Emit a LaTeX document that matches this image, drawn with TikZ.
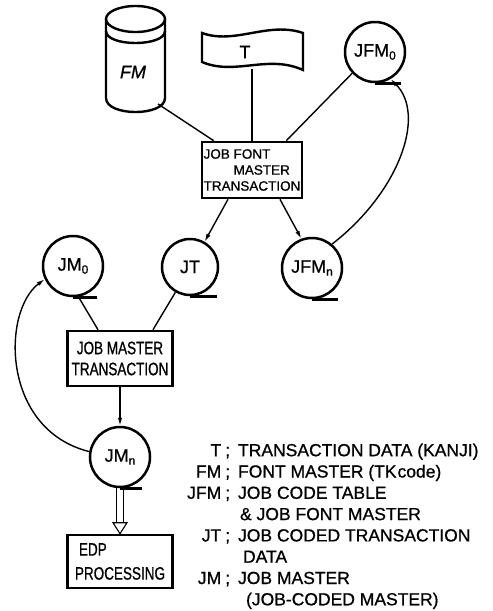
\documentclass[tikz,border=0pt]{standalone}
\usepackage{fontspec}
\setmainfont[FakeBold=0.8]{Liberation Sans}
\newfontfamily\condfont[FakeStretch=0.75,FakeBold=0.8]{Liberation Sans}
\usetikzlibrary{arrows.meta}
\newcommand\mysub[1]{\raisebox{-3pt}{\fontsize{12}{12}\selectfont #1}}
\begin{document}
\begin{tikzpicture}[x=1pt,y=-1pt,
  reel/.style={circle,draw,line width=2.5pt,minimum size=60pt,inner sep=0pt,font=\fontsize{18}{20}\selectfont},
  procbox/.style={draw,line width=2.6pt,inner sep=0pt},
  conn/.style={line width=1.4pt},
  arr/.style={conn,-{Latex[length=8pt,width=4.5pt]}},
  outline/.style={line width=2.4pt},
  tail/.style={line width=2.5pt}]
\useasboundingbox (0,0) rectangle (493,611);

% FM cylinder
\draw[outline] (135.5,19) ellipse[x radius=29.5, y radius=13];
\draw[outline] (106,19) -- (106,98) .. controls (106,116.7) and (165,116.7) .. (165,98) -- (165,19);
\draw[outline] (106,31) .. controls (106,47) and (165,47) .. (165,31);
\node[font=\itshape\fontsize{18}{20}\selectfont] (fm) at (133,72) {FM};
\coordinate (fmb) at (158,104);

% T punched tape
\draw[outline] (202,33) .. controls (235,45) and (268,21) .. (303,33) -- (303,70)
  .. controls (268,54) and (235,76) .. (202,62) -- cycle;
\node[font=\fontsize{18}{20}\selectfont] (t) at (245,52) {T};
\coordinate (tb) at (252,69);

% reels
\node[reel] (jfm0) at (375,52) {JFM\mysub{0}};
\draw[tail] (jfm0.south) -- ++(26,0);
\node[reel] (jm0) at (73,266) {JM\mysub{0}};
\draw[tail] (jm0.south) -- ++(24,0);
\node[reel,minimum size=56pt] (jt) at (190,267) {JT};
\draw[tail] (jt.south) -- ++(27,0);
\node[reel] (jfmn) at (312,268) {JFM\mysub{n}};
\draw[tail] (jfmn.south) -- ++(26,0);
\node[reel] (jmn) at (120,457) {JM\mysub{n}};
\draw[tail] (jmn.south) -- ++(22,0);

% process boxes
\node[procbox,minimum width=100pt,minimum height=56pt,align=left,font=\fontsize{13.5}{16}\selectfont] (box1) at (252,170)
  {JOB FONT\\\hspace*{30pt}MASTER\\TRANSACTION};
\node[procbox,minimum width=105pt,minimum height=55pt,align=center,font=\condfont\fontsize{18}{21}\selectfont] (box2) at (120,358.5)
  {JOB MASTER\\TRANSACTION};
\node[procbox,minimum width=105pt,minimum height=53pt,align=left,font=\condfont\fontsize{18}{24}\selectfont] (edp) at (120,561.5)
  {\hspace*{4pt}EDP\\PROCESSING};

% connectors top
\draw[conn] (fmb) -- ([xshift=13pt]box1.north west);
\draw[conn] (tb) -- (box1.north);
\draw[conn] (jfm0.223) -- ([xshift=-17pt]box1.north east);
\draw[arr] ([xshift=-24pt]box1.south) -- (jt.60);
\draw[arr] ([xshift=28pt]box1.south) -- (jfmn.110);
\draw[arr] (jfmn.50) .. controls +(67,-52) and +(36,36) .. (jfm0.300);

% connectors bottom
\draw[conn] (jm0.280) -- ([xshift=-22pt]box2.north);
\draw[conn] (jt.240) -- ([xshift=33pt]box2.north);
\draw[arr] (box2.south) -- (jmn.north);
\draw[arr] (jmn.170) .. controls +(-88,-22) and +(-43,32) .. (jm0.205);

% double arrow to EDP
\draw[line width=1.1pt] ([xshift=-3.5pt]jmn.south) -- ([xshift=-3.5pt,yshift=11pt]edp.north);
\draw[line width=1.1pt] ([xshift=3.5pt]jmn.south) -- ([xshift=3.5pt,yshift=11pt]edp.north);
\draw[line width=1.1pt,fill=white] ([xshift=-7pt,yshift=11pt]edp.north) -- ([xshift=7pt,yshift=11pt]edp.north) -- (edp.north) -- cycle;

% legend
\node[anchor=west,inner sep=0pt,font=\fontsize{17.5}{21.3}\selectfont] (legend) at (187,526.5)
{\begin{tabular}{@{}r@{\hspace{4pt}}c@{\hspace{8pt}}l@{}}
T & ; & TRANSACTION DATA (KANJI)\\
FM & ; & FONT MASTER (TK\kern1pt code)\\
JFM & ; & JOB CODE TABLE\\
 & & \hspace*{2pt}\& JOB FONT MASTER\\
JT & ; & JOB CODED TRANSACTION\\
 & & \hspace*{5pt}DATA\\
JM & ; & JOB MASTER\\
 & & \hspace*{8pt}(JOB-CODED MASTER)
\end{tabular}};
\end{tikzpicture}
\end{document}
